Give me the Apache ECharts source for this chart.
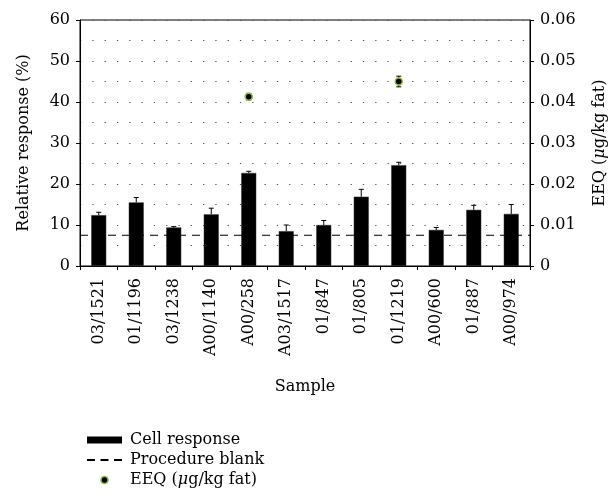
<!DOCTYPE html>
<html><head><meta charset="utf-8">
<script src="https://cdn.jsdelivr.net/npm/echarts@6/dist/echarts.min.js"></script>
<style>html,body{margin:0;padding:0;background:#fff}#c{width:612px;height:502px}</style>
</head><body><div id="c"></div>
<script>
const categories = ['03/1521','01/1196','03/1238','A00/1140','A00/258','A03/1517','01/847','01/805','01/1219','A00/600','01/887','A00/974'];
const cellResponse = [12.4, 15.5, 9.4, 12.6, 22.7, 8.5, 10.0, 16.9, 24.6, 8.8, 13.7, 12.7];
const cellError = [0.7, 1.2, 0.2, 1.5, 0.4, 1.5, 1.1, 1.8, 0.7, 0.6, 1.1, 2.3];
const eeqValues = [null, null, null, null, 0.0413, null, null, null, 0.0450, null, null, null];
const eeqError = [0, 0, 0, 0, 0.0008, 0, 0, 0, 0.0013, 0, 0, 0];
const procedureBlank = 7.5;
const leftMax = 60, leftStep = 10;
const rightMax = 0.06, rightStep = 0.01;

const FONT = 'DejaVu Serif';
const eeqName = 'EEQ (μg/kg fat)';
const eeqRich = 'EEQ ({i|μ}g/kg fat)';
const rich = { i: { fontStyle: 'italic', fontFamily: FONT, fontSize: 16, color: '#000' } };
const GREEN = '#8fbf2f';

const cellErrData = cellResponse.map((v, i) => [i, v, v + cellError[i], v, 0]);
const eeqErrData = [];
eeqValues.forEach((v, i) => { if (v != null) eeqErrData.push([i, v, v + eeqError[i], v - eeqError[i], 1]); });

function errRender(params, api) {
  const x = api.value(0);
  const top = api.coord([x, api.value(2)]);
  const bot = api.coord([x, api.value(3)]);
  const w = 2.5;
  const st = { stroke: '#000', lineWidth: 1 };
  const children = [
    { type: 'line', shape: { x1: top[0], y1: top[1], x2: bot[0], y2: bot[1] }, style: st },
    { type: 'line', shape: { x1: top[0] - w, y1: top[1], x2: top[0] + w, y2: top[1] }, style: st }
  ];
  if (api.value(4) === 1) children.push({ type: 'line', shape: { x1: bot[0] - w, y1: bot[1], x2: bot[0] + w, y2: bot[1] }, style: st });
  return { type: 'group', children };
}

const dotted = { color: '#555', width: 1.2, type: [1.3, 11] };

const chart = echarts.init(document.getElementById('c'), null, { renderer: 'canvas' });
chart.setOption({
  animation: false,
  backgroundColor: '#fff',
  textStyle: { fontFamily: FONT, color: '#000' },
  grid: { left: 80, right: 82, top: 20, bottom: 236, outerBoundsMode: 'none', containLabel: false,
    show: true, borderColor: '#000', borderWidth: 1, backgroundColor: 'transparent' },
  legend: {
    orient: 'vertical', left: 82, top: 427, itemWidth: 35, itemHeight: 7, itemGap: 4,
    symbolKeepAspect: true,
    textStyle: { fontFamily: FONT, fontSize: 16, color: '#000', padding: [0, 0, 0, 3], rich },
    formatter: n => n === eeqName ? eeqRich : n,
    data: [
      { name: 'Cell response', icon: 'rect', itemStyle: { color: '#000', borderWidth: 0 } },
      { name: 'Procedure blank', icon: 'path://M0,0h8v2h-8zM13.5,0h8v2h-8zM27,0h8v2h-8z', itemStyle: { color: '#000', borderWidth: 0 } },
      { name: eeqName, icon: 'circle', itemStyle: { color: '#000', borderColor: GREEN, borderWidth: 1.5 } }
    ]
  },
  xAxis: [{
    type: 'category', data: categories, boundaryGap: true,
    name: 'Sample', nameLocation: 'middle', nameGap: 113,
    nameTextStyle: { fontFamily: FONT, fontSize: 16, color: '#000' },
    axisLine: { lineStyle: { color: '#000', width: 1 } },
    axisTick: { show: true, length: 4, lineStyle: { color: '#000' } },
    axisLabel: { rotate: 90, margin: 12, fontFamily: FONT, fontSize: 16, color: '#000', interval: 0 },
    splitLine: { show: false }
  }, {
    type: 'value', min: 0, max: 12, show: false
  }],
  yAxis: [{
    type: 'value', min: 0, max: leftMax, interval: leftStep, position: 'left',
    name: 'Relative response (%)', nameLocation: 'middle', nameGap: 48,
    nameTextStyle: { fontFamily: FONT, fontSize: 16, color: '#000' },
    axisLine: { show: true, lineStyle: { color: '#000', width: 1 } },
    axisTick: { show: true, length: 4, lineStyle: { color: '#000' } },
    axisLabel: { margin: 10, fontFamily: FONT, fontSize: 16, color: '#000' },
    splitLine: { show: true, lineStyle: dotted },
    minorTick: { show: false, splitNumber: 2 },
    minorSplitLine: { show: true, lineStyle: dotted }
  }, {
    type: 'value', min: 0, max: rightMax, interval: rightStep, position: 'right',
    name: eeqRich, nameLocation: 'middle', nameGap: 62, nameRotate: 90,
    nameTextStyle: { fontFamily: FONT, fontSize: 16, color: '#000', rich },
    axisLine: { show: true, lineStyle: { color: '#000', width: 1 } },
    axisTick: { show: true, length: 4, lineStyle: { color: '#000' } },
    axisLabel: { margin: 10, fontFamily: FONT, fontSize: 16, color: '#000', formatter: v => v === 0 ? '0' : v.toFixed(2) },
    splitLine: { show: false }
  }],
  series: [{
    name: 'Cell response', type: 'bar', data: cellResponse, barWidth: 15,
    itemStyle: { color: '#000', borderColor: '#333', borderWidth: 0.5 }, z: 2
  }, {
    name: 'cellErr', type: 'custom', renderItem: errRender, data: cellErrData, z: 3,
    encode: { x: 0, y: [1, 2, 3] }, silent: true
  }, {
    name: 'Procedure blank', type: 'line', xAxisIndex: 1, yAxisIndex: 0,
    data: [[0, procedureBlank], [12, procedureBlank]], symbol: 'none',
    lineStyle: { color: '#000', width: 1.2, type: [8, 6] }, itemStyle: { color: '#000' }, z: 4
  }, {
    name: 'eeqErr', type: 'custom', yAxisIndex: 1, renderItem: errRender, data: eeqErrData, z: 5,
    encode: { x: 0, y: [1, 2, 3] }, silent: true
  }, {
    name: eeqName, type: 'scatter', yAxisIndex: 1, data: eeqValues, symbol: 'circle', symbolSize: 7,
    itemStyle: { color: '#000', borderColor: GREEN, borderWidth: 1.5, opacity: 1 }, z: 6
  }]
});
</script></body></html>
